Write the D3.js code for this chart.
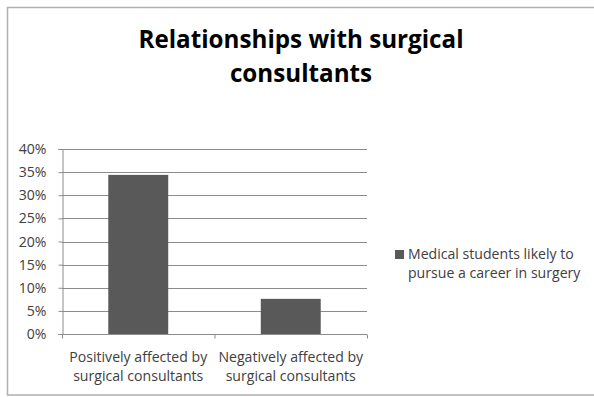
<!DOCTYPE html>
<html><head><meta charset="utf-8">
<script src="https://cdn.jsdelivr.net/npm/d3@7"></script>
<style>body{margin:0;background:#fff}svg{display:block}</style>
</head><body><svg id="c" width="594" height="397"></svg>
<script>
const categories = [["Positively affected by","surgical consultants"],["Negatively affected by","surgical consultants"]];
const values = [0.344, 0.076];
const yTicks = [0,0.05,0.10,0.15,0.20,0.25,0.30,0.35,0.40];
const seriesName = ["Medical students likely to","pursue a career in surgery"];
const titleLines = ["Relationships with surgical","consultants"];

const svg = d3.select("#c");
const font = "'Open Sans', sans-serif";
const fs = 14.1;
svg.append("rect").attr("x",7.5).attr("y",7.5).attr("width",600).attr("height",387.5)
  .attr("fill","#fff").attr("stroke","#b0b0b0").attr("stroke-width",1.5);

const x0=62, x1=367, yTop=149, yBot=334;
const x = d3.scaleBand().domain(d3.range(categories.length)).range([x0,x1]).paddingInner(0.607).paddingOuter(0.3035);
const y = d3.scaleLinear().domain([0,0.4]).range([yBot,yTop]);

const g = svg.append("g");
g.selectAll("line.grid").data(yTicks.slice(1)).join("line")
  .attr("x1",x0).attr("x2",x1).attr("y1",d=>Math.round(y(d))+0.5).attr("y2",d=>Math.round(y(d))+0.5)
  .attr("stroke","#8c8c8c").attr("stroke-width",1);

g.selectAll("rect.bar").data(values).join("rect")
  .attr("x",(d,i)=>x(i)).attr("width",x.bandwidth())
  .attr("y",d=>y(d)).attr("height",d=>yBot-y(d)).attr("fill","#595959");

const yAxis = g.append("g").attr("transform",`translate(${x0+0.5},0)`)
  .call(d3.axisLeft(y).tickValues(yTicks).tickFormat(d3.format(".0%")).tickSize(4).tickPadding(12));
yAxis.select(".domain").attr("stroke","#8c8c8c");
yAxis.selectAll(".tick line").attr("stroke","#8c8c8c");
yAxis.selectAll("text").attr("font-family",font).attr("font-size",fs).attr("fill","#404040");

const xb = d3.scaleLinear().domain([0,categories.length]).range([x0,x1]);
const xAxis = g.append("g").attr("transform",`translate(0,${yBot+0.5})`)
  .call(d3.axisBottom(xb).tickValues(d3.range(categories.length+1)).tickSize(4).tickFormat(""));
xAxis.select(".domain").attr("stroke","#8c8c8c").attr("d",`M${x0},0H${x1}`);
xAxis.selectAll(".tick line").attr("stroke","#8c8c8c");

categories.forEach((c,i)=>{
  const t = g.append("text").attr("x",xb(i+0.5)).attr("text-anchor","middle")
    .attr("font-family",font).attr("font-size",fs).attr("fill","#404040");
  c.forEach((l,j)=>t.append("tspan").attr("x",xb(i+0.5)).attr("y",362+j*19).text(l));
});

const tt = svg.append("text").attr("text-anchor","middle").attr("font-family",font)
  .attr("font-weight","bold").attr("font-size",24.2).attr("fill","#000");
titleLines.forEach((l,j)=>tt.append("tspan").attr("x",301).attr("y",48+j*34).text(l));

svg.append("rect").attr("x",395).attr("y",250).attr("width",9).attr("height",9).attr("fill","#595959");
const lt = svg.append("text").attr("font-family",font).attr("font-size",fs).attr("fill","#404040");
seriesName.forEach((l,j)=>lt.append("tspan").attr("x",408).attr("y",259+j*19).text(l));
</script></body></html>
